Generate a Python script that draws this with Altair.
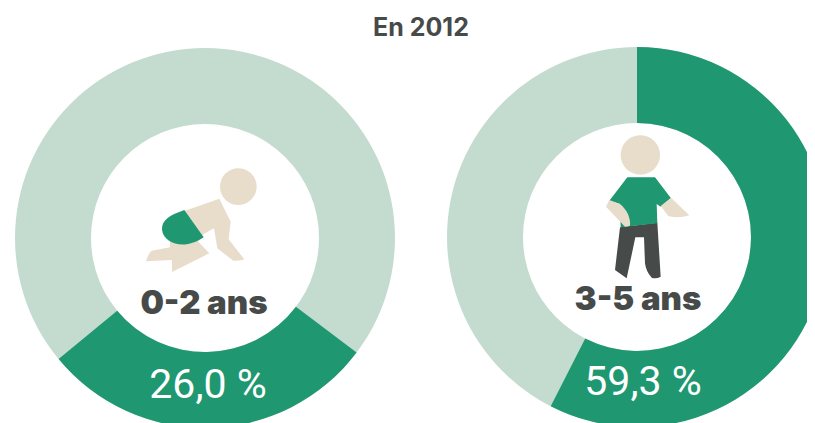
import altair as alt
import pandas as pd

# Donuts: drawn wedge, in percent of the circle
age_labels = ["0-2 ans", "3-5 ans"]
share_labels = ["26,0 %", "59,3 %"]
wedge_start = [35.3, 0.0]
wedge_end = [64.0, 57.5]
title_text = "En 2012"

GREEN = "#1F9770"
PALE = "#C4DBD0"
SKIN = "#E8DDCB"
DARK = "#464A49"


# layout in page pixels of the reference, less the 8px page margin
def px(v):
    return v - 8


centers_x = [px(205), px(637)]
centers_y = [px(238), px(237)]
label_x = [px(204), px(638)]
label_y = [px(314), px(310)]
share_x = [px(208), px(643)]
share_y = [px(398), px(395)]

rings = pd.DataFrame({"cx": centers_x, "cy": centers_y, "a": [0, 0], "b": [100, 100]})
wedges = pd.DataFrame({"cx": centers_x, "cy": centers_y, "a": wedge_start, "b": wedge_end})
labels = pd.DataFrame({"x": label_x, "y": label_y, "t": age_labels})
shares = pd.DataFrame({"x": share_x, "y": share_y, "t": share_labels})
title = pd.DataFrame({"x": [px(421)], "y": [px(36)], "t": [title_text]})

theta_scale = alt.Scale(domain=[0, 100], range=[0, 6.283185307])
PXS = dict(scale=None, axis=None)


def donut(df, color):
    return alt.Chart(df).mark_arc(radius=190, radius2=114, color=color, clip=True, stroke=None).encode(
        x=alt.X("cx:Q", **PXS), y=alt.Y("cy:Q", **PXS),
        theta=alt.Theta("a:Q", scale=theta_scale, stack=False),
        theta2=alt.Theta2("b:Q"),
    )


def text(df, size, color, font, weight):
    return alt.Chart(df).mark_text(fontSize=size, color=color, font=font, fontWeight=weight,
                                   align="center", baseline="alphabetic").encode(
        x=alt.X("x:Q", **PXS), y=alt.Y("y:Q", **PXS), text="t:N")


def icon(path, ox, oy, color):
    # glyph outlines are written in 3x zoom units from the origin (ox, oy)
    return alt.Chart(pd.DataFrame({"x": [px(ox)], "y": [px(oy)]})).mark_point(
        shape=path, size=4 / 9, filled=True, opacity=1, color=color, strokeWidth=0
    ).encode(x=alt.X("x:Q", **PXS), y=alt.Y("y:Q", **PXS))


def circle_path(cx, cy, r):
    return f"M{cx-r},{cy}A{r},{r} 0 1 1 {cx+r},{cy}A{r},{r} 0 1 1 {cx-r},{cy}Z"


baby_skin = ("M165,152L268,116L302,185L296,238L343,298Q325,304 310,302L262,265L252,205L221,222"
             "L205,245L238,280L126,336L126,300L48,304Q55,280 65,272L120,262L120,235Z")
baby_diaper = "M163,150C120,165 95,180 96,208C98,240 135,258 170,253C190,250 210,240 221,232Z"
kid_shirt = "M172,142L255,142L303,205L272,230L260,222L262,280L152,292L150,222L118,212Z"
kid_arm_l = "M118,210L108,230L165,290L180,287C182,265 172,240 150,222Z"
kid_arm_r = "M303,203L358,256Q325,266 295,258L272,228Z"
kid_pants = "M150,292L262,278L272,440Q258,448 245,443Q228,425 225,400L222,322L196,322L170,445L135,420Z"

O1 = (130, 160)
O2 = (570, 130)

chart = alt.layer(
    donut(rings, PALE),
    donut(wedges, GREEN),
    icon(baby_skin, *O1, SKIN),
    icon(circle_path(325, 80, 55), *O1, SKIN),
    icon(baby_diaper, *O1, GREEN),
    icon(circle_path(211, 75, 59), *O2, SKIN),
    icon(kid_pants, *O2, DARK),
    icon(kid_shirt, *O2, GREEN),
    icon(kid_arm_l, *O2, SKIN),
    icon(kid_arm_r, *O2, SKIN),
    text(labels, 33, DARK, "Inter", 900),
    text(shares, 41, "#FFFFFF", "Roboto", 400),
    text(title, 25, DARK, "Inter", 700),
).properties(width=799, height=415, padding=0, background="#FFFFFF").configure_view(stroke=None)

chart = chart.properties(autosize=alt.AutoSizeParams(type="none"))
chart.save("out.html", embed_options={"renderer": "svg", "actions": False})
